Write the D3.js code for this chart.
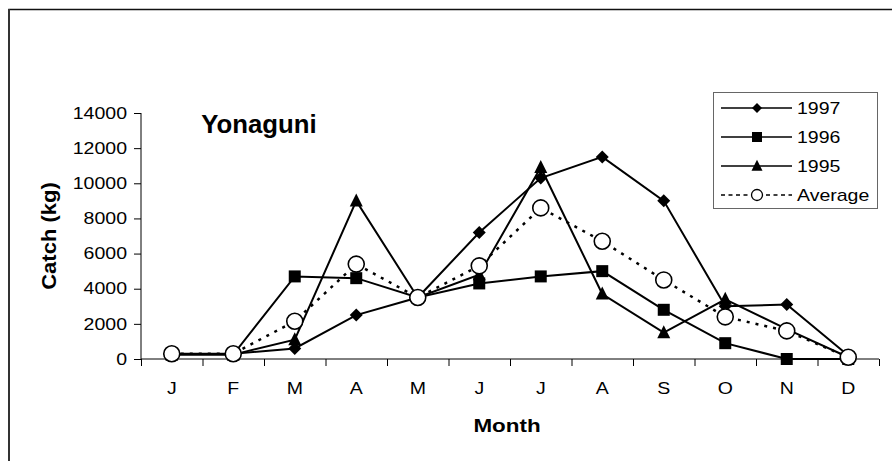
<!DOCTYPE html>
<html><head><meta charset="utf-8">
<script src="https://cdn.jsdelivr.net/npm/d3@7"></script>
<style>body{margin:0;background:#fff}svg{display:block}text{font-family:"Liberation Sans",Arial,sans-serif;fill:#000}</style>
</head><body><svg id="c" width="892" height="461"></svg>
<script>
const months = ["J","F","M","A","M","J","J","A","S","O","N","D"];
const yTicks = [0,2000,4000,6000,8000,10000,12000,14000];
const s1997 = [300,300,600,2500,3500,7200,10300,11500,9000,3000,3100,200];
const s1996 = [250,250,4700,4600,3500,4300,4700,5000,2800,900,0,0];
const s1995 = [250,250,1100,9000,3500,4800,10900,3700,1500,3400,1700,100];
const sAvg  = [300,300,2150,5400,3500,5300,8600,6700,4500,2400,1600,100];
const seriesNames = ["1997","1996","1995","Average"];

const svg = d3.select("#c");
const X0 = 141, X1 = 879, Y0 = 359, Y1 = 113;
const xb = d3.scaleLinear().domain([0,12]).range([X0,X1]);
const y = d3.scaleLinear().domain([0,14000]).range([Y0,Y1]);
const xc = i => xb(i + 0.5);

// outer border (only top and left visible)
svg.append("path").attr("d","M9,461V9.5H892").attr("fill","none").attr("stroke","#111").attr("stroke-width",1.5);
svg.append("line").attr("x1",9).attr("x2",9).attr("y1",9).attr("y2",461).attr("stroke","#333").attr("stroke-width",2);

function stext(g, x, yy, str, size, sx, weight, anchor){
  return g.append("text").attr("transform",`translate(${x},${yy}) scale(${sx},1)`)
    .attr("font-size",size).attr("font-weight",weight||"normal").attr("text-anchor",anchor||"start").text(str);
}

// axes
const yAxis = svg.append("g").attr("transform",`translate(${X0},0)`)
  .call(d3.axisLeft(y).tickValues(yTicks).tickSize(7).tickFormat(""));
yAxis.select(".domain").attr("d",`M0,${Y1}V${Y0}`);
const xAxis = svg.append("g").attr("transform",`translate(0,${Y0})`)
  .call(d3.axisBottom(xb).tickValues(d3.range(13)).tickSize(7).tickFormat(""));
xAxis.select(".domain").attr("d",`M${X0},0H${X1}`);
svg.selectAll(".domain,.tick line").attr("stroke","#000").attr("stroke-width",1);

const TF = 16, TS = 1.22;
yTicks.forEach(v => stext(svg, 127, y(v) + TF*0.36, String(v), TF, TS, "normal", "end"));
months.forEach((m,i) => stext(svg, xc(i), 394, m, TF, TS, "normal", "middle"));

stext(svg, 507, 432, "Month", 19, 1.18, "bold", "middle");
svg.append("text").attr("transform",`translate(56,236) rotate(-90) scale(1.1,1)`)
  .attr("font-size",20).attr("font-weight","bold").attr("text-anchor","middle").text("Catch (kg)");
stext(svg, 259, 133, "Yonaguni", 25, 1.03, "bold", "middle");

// markers
const mk = {
  diamond: h => `M0,${-h}L${h},0L0,${h}L${-h},0Z`,
  square: h => `M${-h},${-h}H${h}V${h}H${-h}Z`,
  triangle: h => `M0,${-h*1.15}L${h},${h*0.85}L${-h},${h*0.85}Z`
};
const series = [
  {name:seriesNames[0], data:s1997, shape:"diamond", dash:null},
  {name:seriesNames[1], data:s1996, shape:"square", dash:null},
  {name:seriesNames[2], data:s1995, shape:"triangle", dash:null},
  {name:seriesNames[3], data:sAvg, shape:"circle", dash:"3,6"}
];
const line = d3.line().x((d,i)=>xc(i)).y(d=>y(d));
const sizes = {diamond:6.5, square:6, triangle:6.5, circle:8};
series.forEach(s => {
  const g = svg.append("g");
  g.append("path").attr("d", line(s.data)).attr("fill","none").attr("stroke","#000")
    .attr("stroke-width", s.dash ? 2.5 : 2).attr("stroke-dasharray", s.dash);
  s.data.forEach((v,i) => {
    if (s.shape === "circle") {
      g.append("circle").attr("cx",xc(i)).attr("cy",y(v)).attr("r",sizes.circle)
        .attr("fill","#fff").attr("stroke","#000").attr("stroke-width",1.6);
    } else {
      g.append("path").attr("transform",`translate(${xc(i)},${y(v)})`).attr("d",mk[s.shape](sizes[s.shape])).attr("fill","#000");
    }
  });
});

// legend
const lg = svg.append("g");
lg.append("rect").attr("x",713.5).attr("y",92.5).attr("width",164).attr("height",116)
  .attr("fill","#fff").attr("stroke","#666").attr("stroke-width",1);
const lsz = {diamond:5, square:5, triangle:5.5, circle:5.5};
series.forEach((s,k) => {
  const ry = 108 + k*29;
  lg.append("line").attr("x1",721).attr("x2",792).attr("y1",ry).attr("y2",ry).attr("stroke","#000")
    .attr("stroke-width",s.dash?1.5:1.5).attr("stroke-dasharray", s.dash ? "4,3.5" : null);
  if (s.shape === "circle") {
    lg.append("circle").attr("cx",757).attr("cy",ry).attr("r",lsz.circle).attr("fill","#fff").attr("stroke","#000").attr("stroke-width",1.3);
  } else {
    lg.append("path").attr("transform",`translate(757,${ry})`).attr("d",mk[s.shape](lsz[s.shape])).attr("fill","#000");
  }
  stext(lg, 797, ry + TF*0.36, s.name, TF, TS, "normal", "start");
});
</script></body></html>
